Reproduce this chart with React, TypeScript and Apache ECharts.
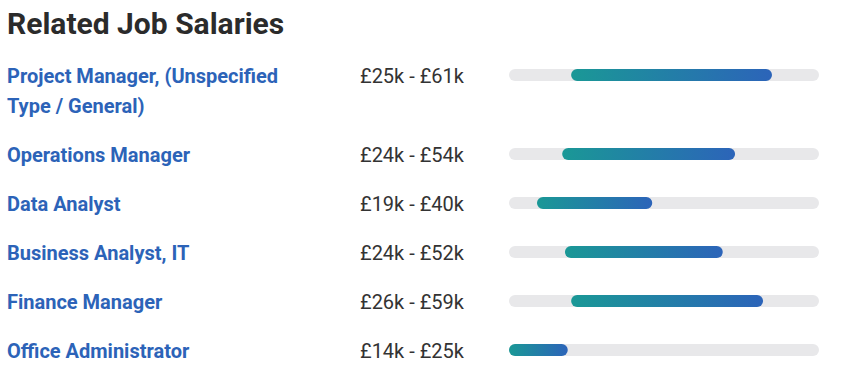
import React, { useEffect, useRef } from "react";
import * as echarts from "echarts";

const titleText = "Related Job Salaries";
const jobTitles = [
  "Project Manager, (Unspecified Type / General)",
  "Operations Manager",
  "Data Analyst",
  "Business Analyst, IT",
  "Finance Manager",
  "Office Administrator",
];
// salary range labels (thousands of GBP)
const lowK = [25, 24, 19, 24, 26, 14];
const highK = [61, 54, 40, 52, 59, 25];
// bar extents as drawn (thousands of GBP)
const barLow = [25.1, 23.5, 19.0, 24.0, 25.1, 14.0];
const barHigh = [61.0, 54.4, 39.6, 52.2, 59.4, 24.5];
const scaleMin = 14;
const scaleMax = 69.4;

const FONT = "Roboto, 'Noto Sans', sans-serif";
const LABEL_SIZE = 20;
const LINE_H = 30;
const ROW_PITCH = 49;
const LABEL_MAX_W = 300;

function wrapLines(text: string, maxWidth: number, font: string): string[] {
  const ctx = document.createElement("canvas").getContext("2d")!;
  ctx.font = font;
  const words = text.split(" ");
  const lines: string[] = [];
  let cur = "";
  for (const w of words) {
    const t = cur ? cur + " " + w : w;
    if (cur && ctx.measureText(t).width > maxWidth) {
      lines.push(cur);
      cur = w;
    } else cur = t;
  }
  if (cur) lines.push(cur);
  return lines;
}

export default function App() {
  const ref = useRef<HTMLDivElement>(null);
  useEffect(() => {
    document.body.style.margin = "0";
    const chart = echarts.init(ref.current!, null, { renderer: "svg" });
    const labelFont = `bold ${LABEL_SIZE}px ${FONT}`;
    const wrapped = jobTitles.map((t) => wrapLines(t, LABEL_MAX_W, labelFont));
    const rowPos: number[] = [];
    wrapped.forEach((lines, i) => {
      if (i === 0) rowPos.push(0);
      else rowPos.push(rowPos[i - 1] + 1 + ((wrapped[i - 1].length - 1) * LINE_H) / ROW_PITCH);
    });
    const yMin = -0.5;
    const yMax = rowPos[rowPos.length - 1] + 0.5;
    const gridTop = 50.5;
    const data = jobTitles.map((_, i) => [barLow[i], barHigh[i], rowPos[i], i]);

    chart.setOption({
      animation: false,
      title: {
        text: titleText,
        left: 7,
        top: 8,
        padding: 0,
        textStyle: { fontFamily: FONT, fontSize: 30, fontWeight: "bold", color: "#2b2b2b" },
      },
      grid: { left: 509, top: gridTop, width: 310, height: (yMax - yMin) * ROW_PITCH },
      xAxis: { type: "value", min: scaleMin, max: scaleMax, show: false },
      yAxis: { type: "value", min: yMin, max: yMax, inverse: true, show: false },
      series: [
        {
          type: "custom",
          clip: false,
          encode: { x: [0, 1], y: 2 },
          data,
          renderItem: (params: any, api: any) => {
            const lo = api.value(0);
            const hi = api.value(1);
            const pos = api.value(2);
            const idx = api.value(3);
            const a = api.coord([scaleMin, pos]);
            const b = api.coord([scaleMax, pos]);
            const p0 = api.coord([lo, pos]);
            const p1 = api.coord([hi, pos]);
            const h = 12;
            const cy = a[1];
            const textTop = cy + 1 - LINE_H / 2;
            return {
              type: "group",
              children: [
                {
                  type: "rect",
                  shape: { x: a[0], y: cy - h / 2, width: b[0] - a[0], height: h, r: h / 2 },
                  style: { fill: "#e8e8ea" },
                },
                {
                  type: "rect",
                  shape: { x: p0[0], y: cy - h / 2, width: p1[0] - p0[0], height: h, r: h / 2 },
                  style: {
                    fill: {
                      type: "linear",
                      x: 0, y: 0, x2: 1, y2: 0,
                      colorStops: [
                        { offset: 0, color: "#1a9896" },
                        { offset: 1, color: "#2c64b9" },
                      ],
                    },
                  },
                },
                {
                  type: "text",
                  x: 7,
                  y: textTop,
                  style: {
                    text: wrapped[idx].join("\n"),
                    font: labelFont,
                    fill: "#2c63b8",
                    lineHeight: LINE_H,
                    verticalAlign: "top",
                    align: "left",
                  },
                },
                {
                  type: "text",
                  x: 360,
                  y: textTop,
                  style: {
                    text: `£${lowK[idx]}k - £${highK[idx]}k`,
                    font: `${LABEL_SIZE}px ${FONT}`,
                    fill: "#333333",
                    lineHeight: LINE_H,
                    verticalAlign: "top",
                    align: "left",
                  },
                },
              ],
            };
          },
        },
      ],
    });
    return () => chart.dispose();
  }, []);
  return <div ref={ref} style={{ width: 867, height: 375 }} />;
}
